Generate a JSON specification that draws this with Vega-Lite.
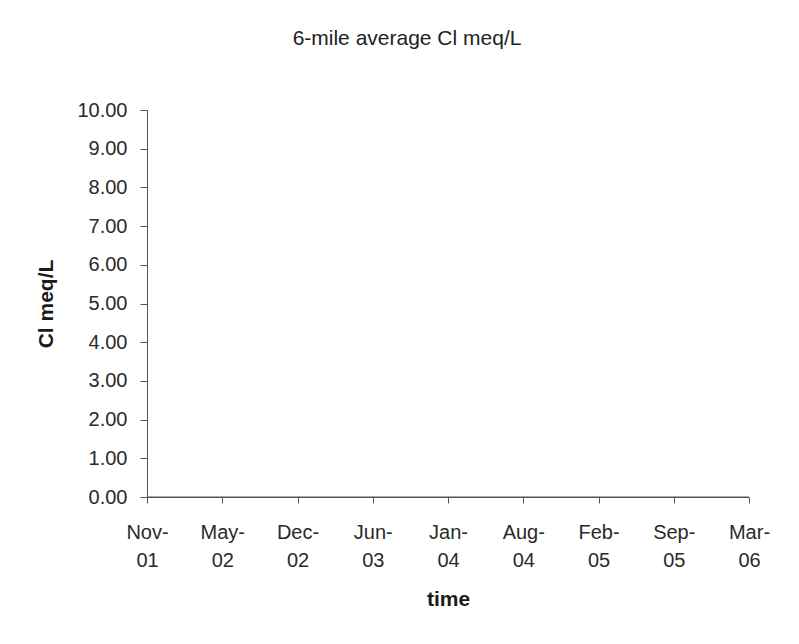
{
  "$schema": "https://vega.github.io/schema/vega-lite/v6.json",
  "width": 602,
  "height": 387,
  "autosize": {"type": "none"},
  "padding": {"left": 147, "top": 110, "right": 50, "bottom": 147},
  "background": "white",
  "title": {
    "text": "6-mile average Cl meq/L",
    "font": "Liberation Sans",
    "fontSize": 21,
    "fontWeight": "normal",
    "color": "#222222",
    "anchor": "middle",
    "dx": -41,
    "offset": 51
  },
  "config": {
    "view": {"stroke": null},
    "axis": {"grid": false, "domainColor": "#555555", "tickColor": "#555555", "labelFont": "Liberation Sans", "titleFont": "Liberation Sans", "labelColor": "#2a2a2a", "titleColor": "#1a1a1a"}
  },
  "data": {
    "values": [
      {"date": "2001-11-01", "cl": 0},
      {"date": "2002-05-21", "cl": 0},
      {"date": "2002-12-08", "cl": 0},
      {"date": "2003-06-27", "cl": 0},
      {"date": "2004-01-14", "cl": 0},
      {"date": "2004-08-02", "cl": 0},
      {"date": "2005-02-19", "cl": 0},
      {"date": "2005-09-08", "cl": 0},
      {"date": "2006-03-28", "cl": 0}
    ]
  },
  "mark": {"type": "line", "color": "#555555", "strokeWidth": 1.2},
  "encoding": {
    "x": {
      "field": "date",
      "type": "temporal",
      "title": "time",
      "scale": {"type": "utc", "domain": [{"year": 2001, "month": 11, "date": 1, "utc": true}, {"year": 2006, "month": 3, "date": 28, "utc": true}], "nice": false},
      "axis": {
        "values": [
          {"year": 2001, "month": 11, "date": 1, "utc": true},
          {"year": 2002, "month": 5, "date": 21, "utc": true},
          {"year": 2002, "month": 12, "date": 8, "utc": true},
          {"year": 2003, "month": 6, "date": 27, "utc": true},
          {"year": 2004, "month": 1, "date": 14, "utc": true},
          {"year": 2004, "month": 8, "date": 2, "utc": true},
          {"year": 2005, "month": 2, "date": 19, "utc": true},
          {"year": 2005, "month": 9, "date": 8, "utc": true},
          {"year": 2006, "month": 3, "date": 28, "utc": true}
        ],
        "labelExpr": "[utcFormat(datum.value, '%b-'), utcFormat(datum.value, '%y')]",
        "labelFontSize": 20,
        "labelLineHeight": 28,
        "labelPadding": 19,
        "labelOverlap": false,
        "labelFlush": false,
        "tickSize": 6,
        "titleFontSize": 21,
        "titleFontWeight": "bold",
        "titlePadding": 18
      }
    },
    "y": {
      "field": "cl",
      "type": "quantitative",
      "title": "Cl meq/L",
      "scale": {"domain": [0, 10], "nice": false},
      "axis": {
        "values": [0, 1, 2, 3, 4, 5, 6, 7, 8, 9, 10],
        "format": ".2f",
        "labelFontSize": 20,
        "labelPadding": 13,
        "tickSize": 7,
        "titleFontSize": 21,
        "titleFontWeight": "bold",
        "titlePadding": 20
      }
    }
  }
}
